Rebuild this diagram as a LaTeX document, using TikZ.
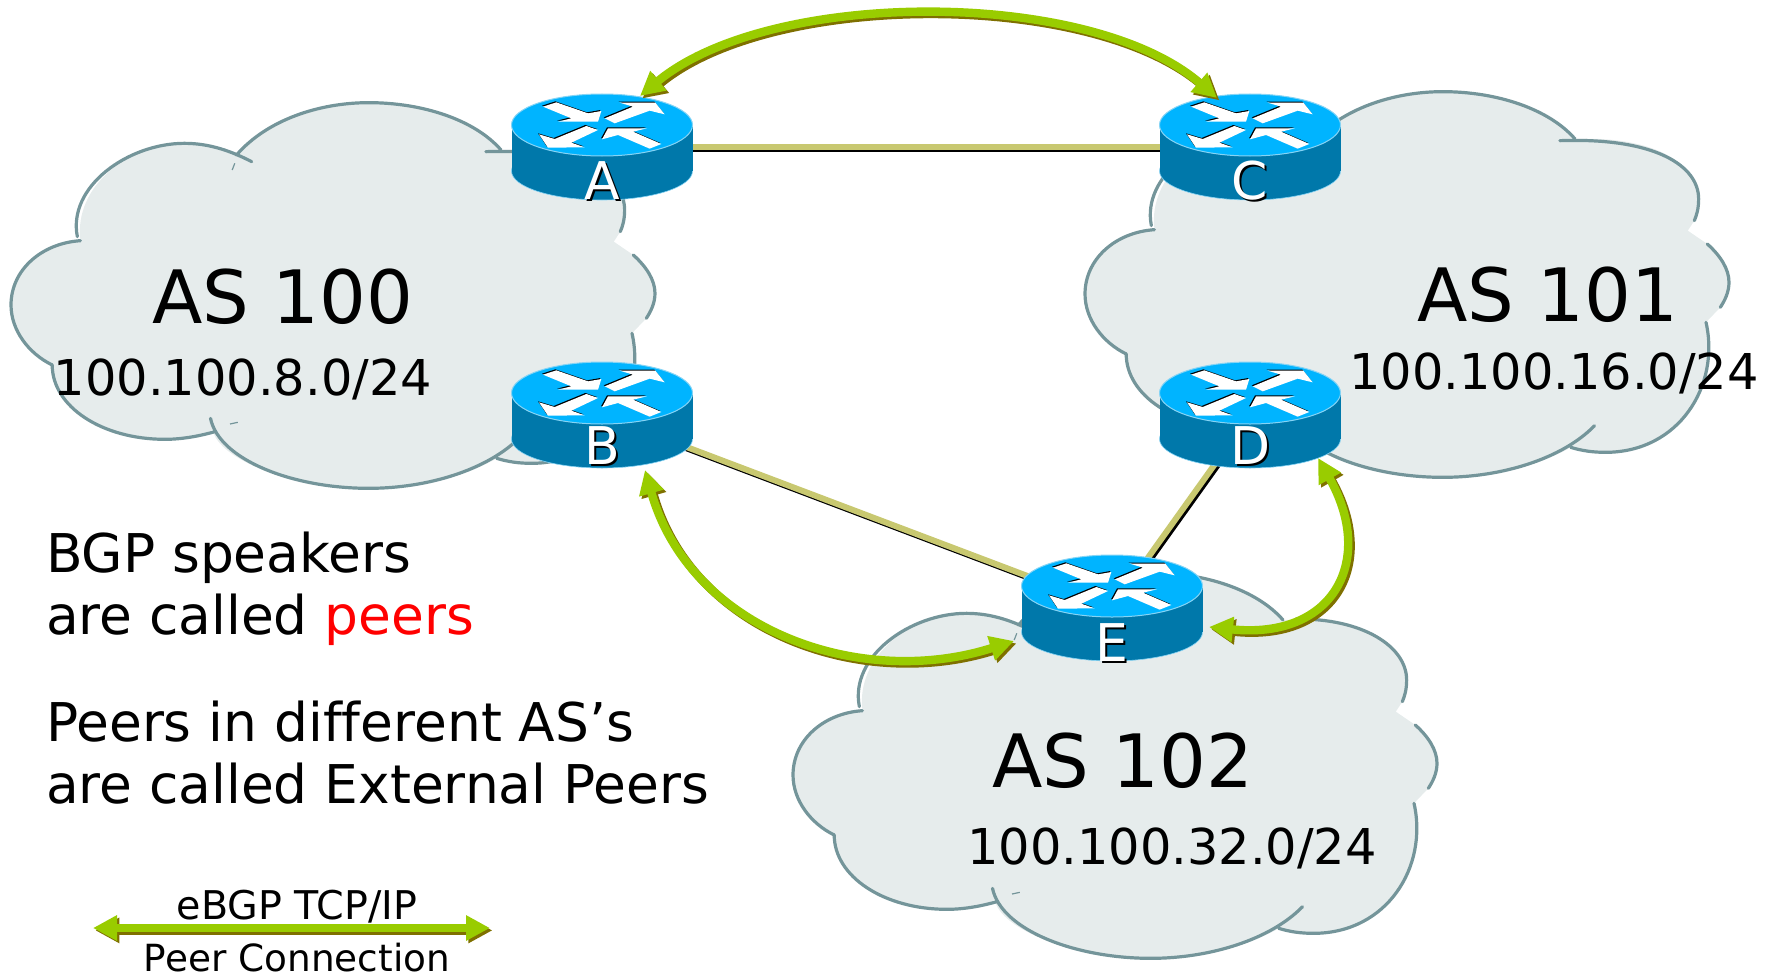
\documentclass[tikz,border=0pt]{standalone}
\usepackage{fontspec}
\setmainfont[Ligatures=NoCommon]{DejaVu Sans}
\usetikzlibrary{arrows.meta,calc}
\definecolor{cloudfill}{HTML}{E6ECEC}
\definecolor{cloudedge}{HTML}{74959A}
\definecolor{rtop}{HTML}{00B4FF}
\definecolor{rside}{HTML}{0078AA}
\definecolor{redge}{HTML}{86D4F5}
\definecolor{peergreen}{HTML}{99CC00}
\definecolor{peershadow}{HTML}{7F7000}
\definecolor{linktan}{HTML}{C8C870}
\newcommand{\fsz}[1]{\fontsize{#1pt}{#1pt}\selectfont}
\newcommand{\shadowed}[1]{\rlap{\kern1pt\raisebox{-1pt}{\textcolor{black}{#1}}}#1}
\tikzset{
  rbox/.style={rectangle,minimum width=90.5pt,minimum height=52pt,inner sep=0pt,outer sep=0pt},
  txt/.style={inner sep=0pt,outer sep=0pt,text=black},
  astitle/.style={txt,anchor=base,font=\fsz{36.8}},
  asnet/.style={txt,anchor=base,font=\fsz{24.7}},
  bodytext/.style={txt,anchor=base west,font=\fsz{26.7}},
  legendtext/.style={txt,anchor=base},
  rlabel/.style={inner sep=0pt,outer sep=0pt,anchor=base,text=white,font=\fsz{26}},
  edgeline/.style={draw=cloudedge,line width=1.6pt,line cap=round},
  link/.style={preaction={draw=black,line width=3pt,transform canvas={shift={(1pt,-1pt)}}},draw=linktan,line width=3pt},
  peer/.style={preaction={draw=peershadow,line width=4.2pt,{Triangle[length=12pt,width=12pt]}-{Triangle[length=12pt,width=12pt]},transform canvas={shift={(1.2pt,-1.2pt)}}},
    draw=peergreen,line width=4.2pt,{Triangle[length=12pt,width=12pt]}-{Triangle[length=12pt,width=12pt]}},
}
\newcommand{\cloudart}[3]{%
  \begin{scope}[shift={(#1,#2)},xscale=0.43365,yscale=0.33333]
    \fill[cloudfill] (550,525) .. controls (620,420) and (740,368) .. (855,368)
      .. controls (980,368) and (1100,420) .. (1160,510)
      .. controls (1350,500) and (1445,590) .. (1445,690)
      .. controls (1445,720) and (1440,740) .. (1435,755)
      -- (1420,785) -- (1465,825)
      .. controls (1495,860) and (1515,900) .. (1515,940)
      .. controls (1515,970) and (1505,995) .. (1495,1015)
      -- (1462,1060)
      .. controls (1495,1250) and (1400,1450) .. (1230,1450)
      .. controls (1200,1450) and (1175,1445) .. (1150,1435)
      .. controls (1070,1495) and (960,1525) .. (855,1525)
      .. controls (680,1525) and (510,1440) .. (495,1350)
      .. controls (460,1370) and (420,1378) .. (385,1378)
      .. controls (240,1378) and (125,1280) .. (125,1155)
      .. controls (70,1120) and (30,1050) .. (30,975)
      .. controls (30,870) and (100,790) .. (190,780)
      .. controls (175,620) and (300,490) .. (430,490)
      .. controls (480,490) and (520,505) .. (555,525) -- cycle;
    \draw[edgeline] (550,525) .. controls (620,420) and (740,368) .. (855,368)
      .. controls (980,368) and (1100,420) .. (1160,510);
    \draw[edgeline] #3 .. controls (1345,505) and (1445,590) .. (1445,690)
      .. controls (1445,720) and (1440,740) .. (1435,755);
    \draw[edgeline] (1465,825) .. controls (1495,860) and (1515,900) .. (1515,940)
      .. controls (1515,970) and (1505,995) .. (1495,1015);
    \draw[edgeline] (1462,1060) .. controls (1495,1250) and (1400,1450) .. (1230,1450)
      .. controls (1200,1450) and (1175,1445) .. (1150,1435);
    \draw[edgeline] (1205,1370) .. controls (1130,1470) and (990,1525) .. (855,1525)
      .. controls (680,1525) and (510,1440) .. (490,1315);
    \draw[edgeline] (500,1355) .. controls (460,1370) and (420,1378) .. (385,1378)
      .. controls (240,1378) and (125,1280) .. (125,1155);
    \draw[edgeline] (125,1155) .. controls (70,1120) and (30,1050) .. (30,975)
      .. controls (30,870) and (100,790) .. (190,782);
    \draw[edgeline] (183,770) .. controls (160,620) and (300,490) .. (430,490)
      .. controls (490,490) and (540,515) .. (585,545);
    \draw[draw=cloudedge,line width=0.6pt] (540,570) -- (546,550);
    \draw[draw=cloudedge,line width=0.6pt] (535,1332) -- (553,1327);
  \end{scope}}
\newcommand{\routerart}[1]{%
  \begin{scope}[shift={(#1)}]
    \fill[rside,draw=redge,line width=0.3pt] (0,24) ellipse [x radius=90.5,y radius=29];
    \fill[rside] (-90.5,-22) rectangle (90.5,24);
    \fill[rtop,draw=redge,line width=0.5pt] (0,-22) ellipse [x radius=90.5,y radius=31];
    \begin{scope}[shift={(-112.33,-77)},scale=0.33333]
      \foreach \dx/\dy/\col in {-3/-3/black,0/0/white}{
        \fill[\col,shift={(\dx,\dy)}] (160,110) -- (200,97) -- (295,130) -- (335,123) -- (325,155) -- (205,155) -- (245,145) -- cycle;
        \fill[\col,shift={(\dx,\dy)}] (345,145) -- (430,110) -- (390,98) -- (497,98) -- (525,133) -- (480,122) -- (375,160) -- cycle;
        \fill[\col,shift={(\dx,\dy)}] (290,168) -- (325,180) -- (245,218) -- (285,232) -- (175,233) -- (148,193) -- (195,207) -- cycle;
        \fill[\col,shift={(\dx,\dy)}] (515,222) -- (480,236) -- (385,195) -- (337,208) -- (355,175) -- (472,175) -- (430,185) -- cycle;
      }
    \end{scope}
  \end{scope}}
\begin{document}
\begin{tikzpicture}[x=0.5pt,y=-0.5pt]
\useasboundingbox (0,0) rectangle (1775,974);
% clouds
\cloudart{-2}{-20}{(1125,515)}
\cloudart{1072}{-31}{(1125,515)}
\cloudart{780}{450}{(1190,507)}
% router nodes
\node[rbox] (A) at (602,147) {};
\node[rbox] (B) at (602,415) {};
\node[rbox] (C) at (1250,147) {};
\node[rbox] (D) at (1250,415) {};
\node[rbox] (E) at (1112,608) {};
% physical links
\draw[link] (A.center) -- (C.center);
\draw[link] (B.center) -- (E.center);
\draw[link] (D.center) -- (E.center);
% routers
\routerart{A}
\routerart{B}
\routerart{C}
\routerart{D}
\routerart{E}
% router labels
\node[rlabel] (la) at ($(A)+(0,52)$) {\shadowed{A}};
\node[rlabel] (lb) at ($(B)+(0,49)$) {\shadowed{B}};
\node[rlabel] (lc) at ($(C)+(0,52)$) {\shadowed{C}};
\node[rlabel] (ld) at ($(D)+(0,49)$) {\shadowed{D}};
\node[rlabel] (le) at ($(E)+(0,53)$) {\shadowed{E}};
% cloud labels
\node[astitle] (as100) at (283,323) {AS 100};
\node[asnet] (net100) at (243,395) {100.100.8.0/24};
\node[astitle] (as101) at (1548,321) {AS 101};
\node[asnet] (net101) at (1554,389) {100.100.16.0/24};
\node[astitle] (as102) at (1123,787) {AS 102};
\node[asnet] (net102) at (1172,864) {100.100.32.0/24};
% text
\node[bodytext] (t1) at (46,572) {BGP speakers};
\node[bodytext] (t2) at (46,634) {are called \textcolor{red}{peers}};
\node[bodytext] (t3) at (46,741) {Peers in different AS’s};
\node[bodytext] (t4) at (46,803) {are called External Peers};
% peer sessions
\draw[peer] ($(A)+(38,-51)$) .. controls (770,-12) and (1090,-12) .. ($(C)+(-33,-49)$);
\draw[peer] ($(B)+(43,55)$) .. controls (690,630) and (860,690) .. ($(E)+(-98,33)$);
\draw[peer] ($(D)+(68,43)$) .. controls (1376,560) and (1334,640) .. ($(E)+(97,19)$);
% legend
\coordinate (legl) at (93,928);
\coordinate (legr) at (490,928);
\draw[peer] (legl) -- (legr);
\node[legendtext,font=\fsz{19.8}] (lg1) at (297,919) {eBGP TCP/IP};
\node[legendtext,font=\fsz{18.7}] (lg2) at (297,971) {Peer Connection};
\end{tikzpicture}
\end{document}
